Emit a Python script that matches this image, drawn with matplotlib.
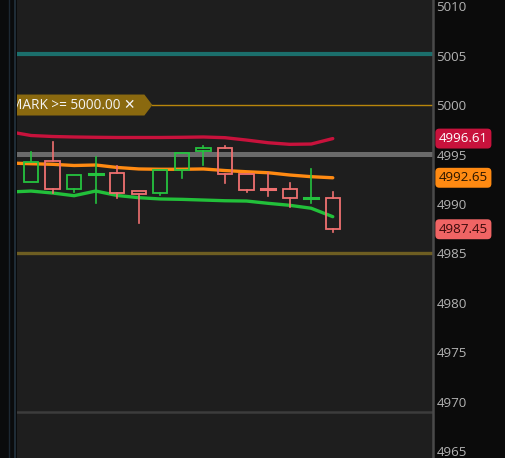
import matplotlib
matplotlib.use("Agg")
import matplotlib.pyplot as plt
from matplotlib.lines import Line2D
from matplotlib.patches import Polygon, Rectangle

plt.rcParams["font.family"] = ["Open Sans", "DejaVu Sans"]

# candles (index 0..14)
opens = [4992.2, 4994.35, 4991.5, 4992.9, 4993.15, 4991.3, 4991.1, 4993.45, 4995.35, 4995.65,
         4993.05, 4991.52, 4991.5, 4990.56, 4990.6]
highs = [4995.25, 4996.25, 4992.95, 4994.75, 4993.85, 4991.3, 4993.45, 4995.15, 4995.85, 4995.85,
         4993.05, 4993.15, 4992.1, 4993.55, 4991.2]
lows = [4992.2, 4991.1, 4991.2, 4990.1, 4990.6, 4988.1, 4990.9, 4992.6, 4993.95, 4992.1,
        4991.2, 4990.8, 4989.7, 4990.1, 4987.15]
closes = [4994.25, 4991.5, 4992.95, 4993.0, 4991.1, 4991.0, 4993.45, 4995.15, 4995.65, 4993.05,
          4991.4, 4991.47, 4990.6, 4990.61, 4987.45]

# study lines (index -1..14)
upper_band = [4997.3, 4996.92, 4996.82, 4996.77, 4996.74, 4996.72, 4996.72, 4996.72, 4996.74,
              4996.77, 4996.7, 4996.46, 4996.19, 4996.03, 4996.06, 4996.61]
mid_line = [4994.14, 4994.07, 4994.01, 4993.89, 4993.94, 4993.69, 4993.54, 4993.51, 4993.51,
            4993.54, 4993.38, 4993.26, 4993.16, 4992.93, 4992.76, 4992.65]
lower_line = [4991.21, 4991.31, 4991.11, 4990.84, 4991.31, 4990.86, 4990.64, 4990.51, 4990.47,
              4990.4, 4990.33, 4990.3, 4990.07, 4989.87, 4989.57, 4988.72]

levels = [5005.15, 4995.1, 4985.0, 4969.0]
level_colors = ["#1b6f6c", "#6a6a6a", "#6e5e22", "#3c3c3c"]
level_widths = [3.0, 3.6, 2.4, 1.8]

alert_price = 5000.00
y_ticks = [5010, 5005, 5000, 4995, 4990, 4985, 4980, 4975, 4970, 4965]
badges = [(4996.61, "#c8123c", "white"), (4992.65, "#ff8a12", "#2a1600"), (4987.45, "#f06464", "#3a0a0a")]

up_color = "#25c23f"
down_color = "#ef7070"

fig = plt.figure(figsize=(5.06, 4.58), dpi=100, facecolor="#0b0b0b")
ax = fig.add_axes([17 / 506, 0, 416 / 506, 1])
ax.set_facecolor("#1e1e1e")
ax.set_xlim(-0.65, 18.65)
ax.set_ylim(4964.34, 5010.61)

for lvl, col, lw in zip(levels, level_colors, level_widths):
    ax.axhline(lvl, color=col, lw=lw, zorder=1)

xs_line = list(range(-1, len(upper_band) - 1))
ax.plot(xs_line, upper_band, color="#c8123c", lw=2.4, zorder=3, solid_capstyle="round")
ax.plot(xs_line, mid_line, color="#ff8a12", lw=2.4, zorder=3, solid_capstyle="round")
ax.plot(xs_line, lower_line, color="#22c03a", lw=2.4, zorder=3, solid_capstyle="round")

body_w = 0.66
for i, (o, h, l, c) in enumerate(zip(opens, highs, lows, closes)):
    col = up_color if c >= o else down_color
    top, bot = max(o, c), min(o, c)
    ax.plot([i, i], [top, h], color=col, lw=1.2, zorder=4)
    ax.plot([i, i], [l, bot], color=col, lw=1.2, zorder=4)
    if top - bot < 0.12:
        ax.plot([i - body_w / 2, i + body_w / 2], [c, c], color=col, lw=2.2, zorder=4)
    else:
        ax.add_patch(Rectangle((i - body_w / 2, bot), body_w, top - bot, fill=False,
                               edgecolor=col, lw=1.3, zorder=4))

# alert label
tip_x, box_x1, box_h = 5.63, 5.26, 1.06
poly = Polygon([(-0.65, alert_price + box_h), (box_x1, alert_price + box_h), (tip_x, alert_price),
                (box_x1, alert_price - box_h), (-0.65, alert_price - box_h)],
               closed=True, facecolor="#8a690f", edgecolor="none", zorder=5)
ax.add_patch(poly)
ax.plot([tip_x, 18.65], [alert_price, alert_price], color="#b8860b", lw=1.0, zorder=2)
ax.text(-0.97, alert_price - 0.05, f"MARK >= {alert_price:.2f} \u2715", color="#f4f4f4", fontsize=9.8,
        fontweight="medium", va="center", ha="left", zorder=6)

ax.yaxis.tick_right()
ax.set_yticks(y_ticks)
ax.set_yticklabels([str(t) for t in y_ticks])
ax.tick_params(axis="y", length=0, pad=2.5, labelsize=9.6, labelcolor="#b4b4b4")
ax.set_xticks([])
for side in ["top", "left", "bottom"]:
    ax.spines[side].set_visible(False)
ax.spines["right"].set_color("#4a4a4a")
ax.spines["right"].set_linewidth(1.8)

for val, bg, fg in badges:
    ax.annotate(f"{val:.2f}", xy=(1.014, val), xycoords=("axes fraction", "data"), ha="left", va="center",
                fontsize=9.6, color=fg, annotation_clip=False,
                bbox=dict(boxstyle="round,pad=0.26,rounding_size=0.3", facecolor=bg, edgecolor="none"))

# left strip, drawn over anything that spills past the plot edge
fig.add_artist(Rectangle((0, 0), 17 / 506, 1, transform=fig.transFigure, facecolor="#0a0b0c",
                         edgecolor="none", zorder=10))
fig.add_artist(Line2D([9.5 / 506, 9.5 / 506], [0, 1], transform=fig.transFigure, color="#1c2833",
                      lw=1.0, zorder=11))
fig.add_artist(Line2D([15.5 / 506, 15.5 / 506], [0, 1], transform=fig.transFigure, color="#24333f",
                      lw=1.2, zorder=11))

fig.savefig("out.png", dpi=100, facecolor=fig.get_facecolor())
